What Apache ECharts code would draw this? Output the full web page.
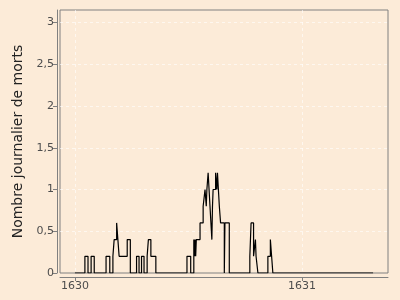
<!DOCTYPE html>
<html>
<head>
<meta charset="utf-8">
<style>
html,body{margin:0;padding:0;background:#FCEBD8;}
#chart{width:400px;height:300px;}
</style>
<script src="https://cdn.jsdelivr.net/npm/echarts@6/dist/echarts.min.js"></script>
</head>
<body>
<div id="chart"></div>
<script>
// Day offsets from 1 January 1630 where the daily value changes (step start)
var runStartDays = [0,16,21,26,31,50,56,61,63,67,69,71,84,89,99,103,107,111,116,118,122,130,180,186,191,192,193,194,195,201,206,209,211,212,214,217,220,221,222,226,228,229,232,234,240,241,248,281,282,283,287,290,291,294,310,314,316,318,479];
// Daily number of deaths (rolling mean) held from each start day
var runValues   = [0,0.2,0,0.2,0,0.2,0,0.2,0.4,0.6,0.4,0.2,0.4,0,0.2,0,0.2,0,0.2,0.4,0.2,0,0.2,0,0.4,0.2,0.4,0.2,0.4,0.6,0.8,1.0,0.8,1.0,1.2,0.8,0.4,0.8,1.0,1.2,1.0,1.2,0.8,0.6,0,0.6,0,0.2,0.4,0.6,0.2,0.4,0.2,0,0.2,0.4,0.2,0,0];
// Year tick positions (days from 1 January 1630) and labels
var yearTickDays = [0,365];
var yearTickLabels = ['1630','1631'];
var yTicks = [0,0.5,1,1.5,2,2.5,3];

var seriesData = runStartDays.map(function(d,i){return [d, runValues[i]];});

var chart = echarts.init(document.getElementById('chart'), null, {renderer:'canvas'});
var gridWhite = 'rgba(255,255,255,0.6)';
chart.setOption({
  backgroundColor:'#FCEBD8',
  animation:false,
  grid:{left:60,right:12,top:10,bottom:27,show:true,borderColor:'#808080',borderWidth:1,backgroundColor:'transparent'},
  xAxis:{
    type:'value', min:-24, max:503, offset:4,
    axisLine:{show:true,onZero:false,lineStyle:{color:'#808080',width:1}},
    axisTick:{show:true,length:4,lineStyle:{color:'#808080'},customValues:yearTickDays},
    axisLabel:{customValues:yearTickDays,color:'#4d4d4d',fontFamily:'DejaVu Sans',fontSize:11,margin:4,
      formatter:function(v){var i=yearTickDays.indexOf(v);return i>=0?yearTickLabels[i]:'';}},
    splitLine:{show:true,lineStyle:{color:gridWhite,type:[3,3],width:1}}
  },
  yAxis:{
    type:'value', min:0, max:3.15, offset:3,
    name:'Nombre journalier de morts', nameLocation:'middle', nameGap:31,
    nameTextStyle:{color:'#222',fontFamily:'DejaVu Sans',fontSize:14},
    axisLine:{show:true,onZero:false,lineStyle:{color:'#808080',width:1}},
    axisTick:{show:true,length:4,lineStyle:{color:'#808080'},customValues:yTicks},
    axisLabel:{customValues:yTicks,color:'#4d4d4d',fontFamily:'DejaVu Sans',fontSize:11,margin:3,
      formatter:function(v){return String(v).replace('.',',');}},
    splitLine:{show:true,lineStyle:{color:['rgba(0,0,0,0)',gridWhite,gridWhite,gridWhite,gridWhite,gridWhite,gridWhite],type:[3,3],width:1}}
  },
  series:[{
    type:'line', data:seriesData, step:'end', symbol:'none',
    lineStyle:{color:'#000',width:1.2}
  }]
});
</script>
</body>
</html>
